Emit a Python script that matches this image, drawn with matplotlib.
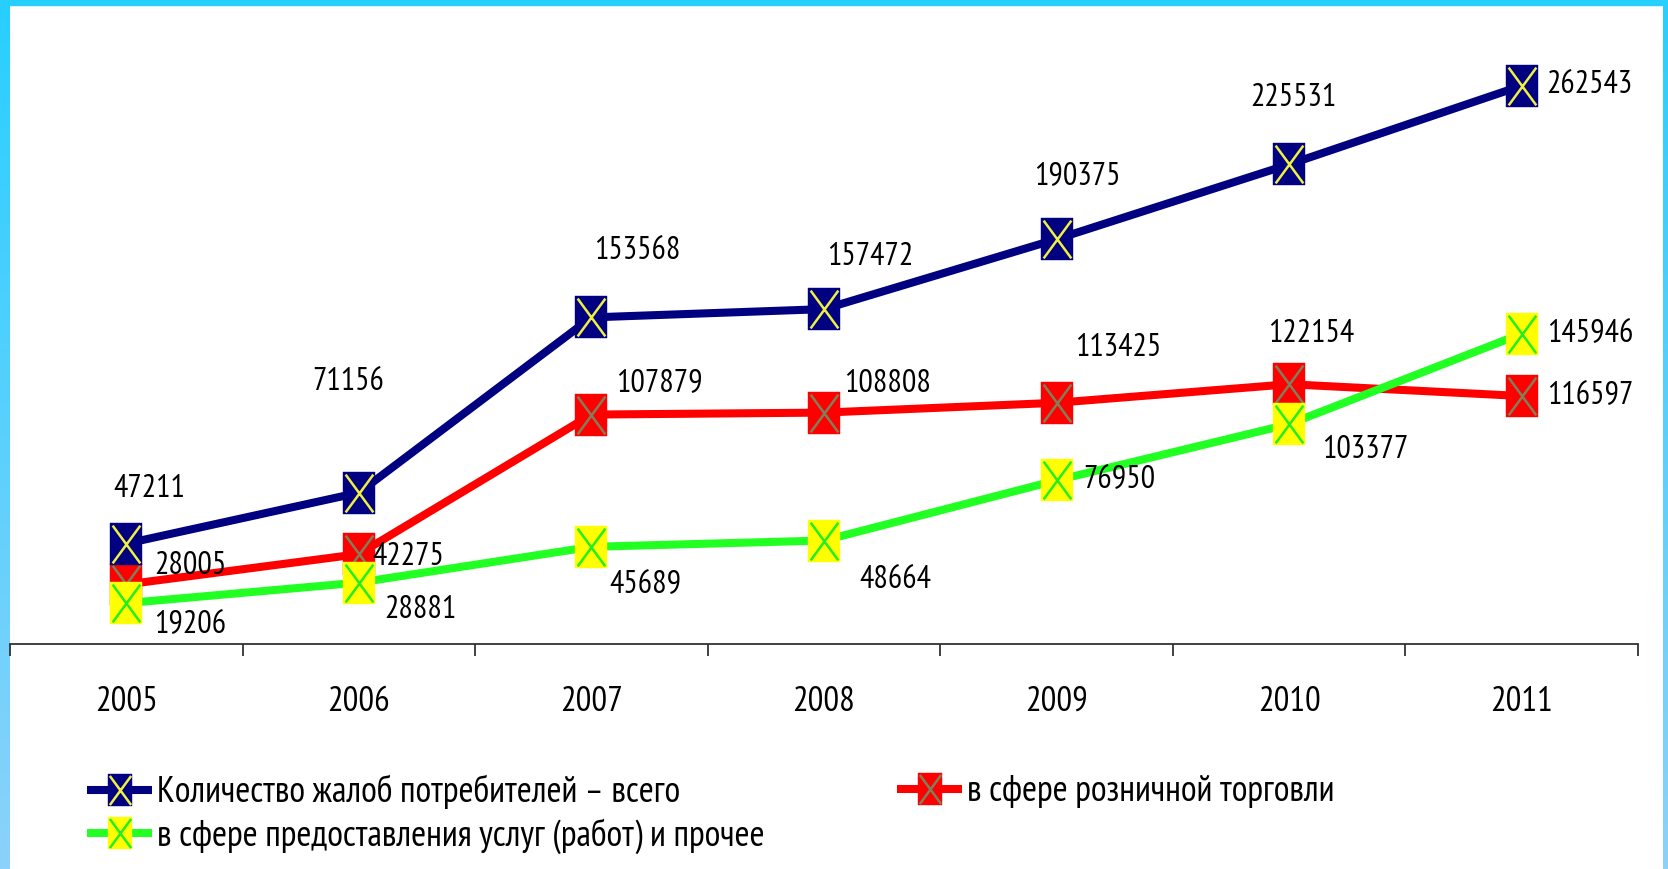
import matplotlib
matplotlib.use("Agg")
import matplotlib.pyplot as plt
import numpy as np
from matplotlib.path import Path
from matplotlib.legend_handler import HandlerTuple
from matplotlib.colors import LinearSegmentedColormap
from matplotlib import font_manager

# ---------------- data ----------------
years = ["2005", "2006", "2007", "2008", "2009", "2010", "2011"]
total = [47211, 71156, 153568, 157472, 190375, 225531, 262543]
retail = [28005, 42275, 107879, 108808, 113425, 122154, 116597]
services = [19206, 28881, 45689, 48664, 76950, 103377, 145946]

label_total = "Количество жалоб потребителей – всего"
label_retail = "в сфере розничной торговли"
label_services = "в сфере предоставления услуг (работ) и прочее"

# label offsets in pixels (layout only)
off_total = [(23, 55), (-11, 111), (46, 66), (46, 52), (21, 63), (4, 66), (68, 1)]
off_retail = [(64, 18), (49, -3), (68, 32), (64, 29), (62, 55), (22, 50), (69, 0)]
off_services = [(64, -22), (62, -27), (54, -38), (71, -39), (63, 0), (76, -26), (69, 0)]

# ---------------- fonts ----------------
names = {f.name for f in font_manager.fontManager.ttflist}
FAM = ["DejaVu Sans"]
STRETCH = "condensed"
for cand in ["PT Sans Narrow", "Liberation Sans Narrow", "Roboto Condensed"]:
    if cand in names:
        FAM = [cand, "DejaVu Sans"]
        STRETCH = "normal"
        break
plt.rcParams["font.family"] = FAM
plt.rcParams["font.stretch"] = STRETCH

W, H = 1668, 869
fig = plt.figure(figsize=(W / 100, H / 100), dpi=100)
fig.patch.set_facecolor("white")

# ---------------- borders ----------------
grad = np.linspace(0, 1, 256).reshape(-1, 1)
bcmap = LinearSegmentedColormap.from_list("b", ["#27CFFF", "#8CD2FA"])
axl = fig.add_axes([0, 0, 10 / W, 1])
axl.imshow(grad, aspect="auto", cmap=bcmap)
axl.axis("off")
axr = fig.add_axes([1 - 5 / W, 0, 5 / W, 1])
axr.imshow(grad, aspect="auto", cmap=bcmap)
axr.axis("off")
fig.add_artist(plt.Rectangle((0, 1 - 5 / H), 1, 5 / H, transform=fig.transFigure,
                             color="#27CFFF", zorder=10))

# ---------------- main axes ----------------
ymax = 300000
ax_bottom_px = 644
ax_h_px = 638
ax = fig.add_axes([10 / W, 1 - ax_bottom_px / H, 1628 / W, ax_h_px / H])
ax.set_facecolor("none")
x = np.arange(len(years))

rect = Path([(-0.38, -0.5), (0.38, -0.5), (0.38, 0.5), (-0.38, 0.5), (-0.38, -0.5)],
            [Path.MOVETO, Path.LINETO, Path.LINETO, Path.LINETO, Path.CLOSEPOLY])
xmark = Path([(0, 0.5), (-0.33, -0.45), (0.33, 0.45), (-0.33, 0.45), (0.33, -0.45)],
             [Path.MOVETO, Path.MOVETO, Path.LINETO, Path.MOVETO, Path.LINETO])

MS = 30.2
series = [
    (retail, "#FF0000", "#FF0000", "#7F7F5A", label_retail, off_retail, 2),
    (total, "#000080", "#000080", "#F0F040", label_total, off_total, 3),
    (services, "#22FF22", "#FFFF00", "#22EE22", label_services, off_services, 4),
]
handles = {}
for vals, lc, fc, xc, lab, offs, z in series:
    l1, = ax.plot(x, vals, color=lc, lw=5.8, marker=rect, ms=MS, mfc=fc, mec=fc,
                  mew=0.3, zorder=z, clip_on=False, solid_capstyle="butt")
    l2, = ax.plot(x, vals, ls="none", marker=xmark, ms=MS, mfc="none", mec=xc,
                  mew=1.8, zorder=z + 0.1, clip_on=False)
    handles[lab] = (l1, l2)
    for xi, v, (dx, dy) in zip(x, vals, offs):
        ax.annotate(str(v), (xi, v), xytext=(dx, dy), textcoords="offset pixels",
                    ha="center", va="center", fontsize=23, color="black",
                    zorder=6, annotation_clip=False)

ax.set_xlim(-0.5, len(years) - 0.5)
ax.set_ylim(0, ymax)
for s in ["top", "right", "left"]:
    ax.spines[s].set_visible(False)
ax.spines["bottom"].set_color("#333333")
ax.spines["bottom"].set_linewidth(1.3)
ax.set_yticks([])
ax.set_xticks(x)
ax.set_xticklabels(years)
ax.set_xticks(np.arange(-0.5, len(years)), minor=True)
ax.tick_params(axis="x", which="major", length=0, pad=30, labelsize=25)
ax.tick_params(axis="x", which="minor", length=8.6, width=1.3, color="#333333",
               direction="out")

# ---------------- legends ----------------
common = dict(frameon=False, fontsize=26, handlelength=1.8, handletextpad=0.14,
              borderpad=0, borderaxespad=0, labelspacing=0.24, markerscale=0.77,
              numpoints=1, handler_map={tuple: HandlerTuple(ndivide=1)})
leg1 = fig.legend([handles[label_total], handles[label_services]],
                  [label_total, label_services], loc="upper left",
                  bbox_to_anchor=(87 / W, 1 - 775 / H), **common)
leg2 = fig.legend([handles[label_retail]], [label_retail], loc="upper left",
                  bbox_to_anchor=(897 / W, 1 - 775 / H), **common)

fig.savefig("out.png", dpi=100, facecolor="white")
